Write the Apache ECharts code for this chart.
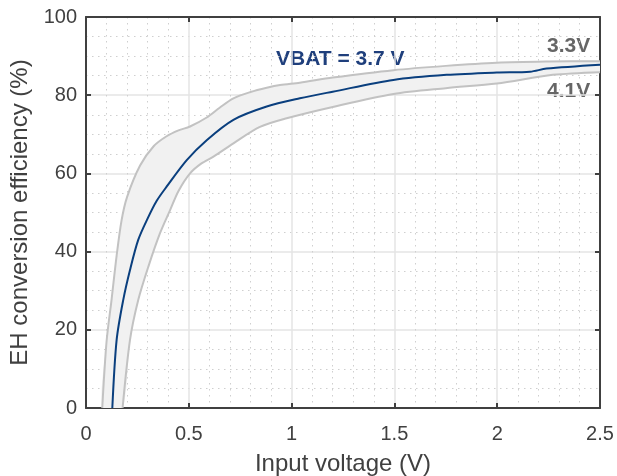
<!DOCTYPE html>
<html>
<head>
<meta charset="utf-8">
<script src="https://cdn.jsdelivr.net/npm/echarts@6/dist/echarts.min.js"></script>
<style>
  html, body { margin: 0; padding: 0; background: #fff; }
  #chart { width: 617px; height: 476px; }
</style>
</head>
<body>
<div id="chart"></div>
<script>
// input voltage (V) / efficiency (%) per battery voltage
var volt33 = [0.079, 0.1, 0.125, 0.149, 0.173, 0.2, 0.263, 0.33, 0.392, 0.45, 0.506, 0.587, 0.65, 0.717, 0.8, 0.879, 0.944, 1.04, 1.2, 1.495, 1.75, 1.998, 2.25, 2.5];
var eff33 = [0, 17, 28, 39, 48, 54, 62, 67, 69.5, 71, 72, 74.3, 76.8, 79.2, 80.8, 81.9, 82.6, 83.2, 84.5, 86.4, 87.5, 88.3, 88.6, 88.7];

var volt37 = [0.128, 0.149, 0.181, 0.214, 0.254, 0.3, 0.344, 0.392, 0.49, 0.587, 0.717, 0.879, 1.04, 1.2, 1.495, 1.754, 1.998, 2.16, 2.24, 2.5];
var eff37 = [0, 17.4, 27.6, 35.3, 43, 48.5, 53, 56.6, 63.4, 68.5, 73.7, 77.1, 79.2, 80.9, 83.9, 85.2, 85.8, 86, 86.8, 87.8];

var volt41 = [0.178, 0.214, 0.254, 0.303, 0.36, 0.409, 0.45, 0.506, 0.56, 0.62, 0.717, 0.846, 0.976, 1.2, 1.495, 1.75, 1.998, 2.27, 2.5];
var eff41 = [0, 17.4, 27.6, 36.1, 44.7, 50.6, 55.5, 60, 62.5, 64.3, 67.7, 71.9, 74.1, 77, 80.3, 81.8, 83, 85.2, 85.9];

var xTicks = [0, 0.5, 1, 1.5, 2, 2.5];
var yTicks = [0, 20, 40, 60, 80, 100];

function pairs(xs, ys) {
  return xs.map(function (x, i) { return [x, ys[i]]; });
}

var upper = pairs(volt33, eff33);
var middle = pairs(volt37, eff37);
var lower = pairs(volt41, eff41);

var chart = echarts.init(document.getElementById('chart'));

var axisCol = '#404040';
var font = '"Liberation Sans", Arial, sans-serif';

function xAxisCfg(show) {
  return {
    type: 'value',
    min: xTicks[0],
    max: xTicks[xTicks.length - 1],
    interval: xTicks[1] - xTicks[0],
    position: show ? 'bottom' : 'top',
    name: show ? 'Input voltage (V)' : '',
    nameLocation: 'middle',
    nameGap: 44,
    nameTextStyle: { color: axisCol, fontSize: 24, fontFamily: font },
    axisLine: { show: true, onZero: false, lineStyle: { color: axisCol, width: 2 } },
    axisTick: { show: true, inside: true, length: 5, lineStyle: { color: axisCol, width: 2 } },
    axisLabel: {
      show: show, color: axisCol, fontSize: 20, fontFamily: font, margin: 16,
      formatter: function (v) { return String(+v.toFixed(1)); }
    },
    splitLine: { show: show, lineStyle: { color: '#e4e4e4', width: 1.5 } },
    minorTick: { show: show, splitNumber: 5, length: 0 },
    minorSplitLine: { show: show, lineStyle: { color: '#cfcfcf', width: 1, type: [1.5, 4.5] } }
  };
}

function yAxisCfg(show) {
  return {
    type: 'value',
    min: yTicks[0],
    max: yTicks[yTicks.length - 1],
    interval: yTicks[1] - yTicks[0],
    position: show ? 'left' : 'right',
    name: show ? 'EH conversion efficiency (%)' : '',
    nameLocation: 'middle',
    nameGap: 52,
    nameTextStyle: { color: axisCol, fontSize: 24, fontFamily: font },
    axisLine: { show: true, onZero: false, lineStyle: { color: axisCol, width: 2 } },
    axisTick: { show: true, inside: true, length: 5, lineStyle: { color: axisCol, width: 2 } },
    axisLabel: { show: show, color: axisCol, fontSize: 20, fontFamily: font, margin: 9 },
    splitLine: { show: show, lineStyle: { color: '#e4e4e4', width: 1.5 } },
    minorTick: { show: show, splitNumber: 4, length: 0 },
    minorSplitLine: { show: show, lineStyle: { color: '#cfcfcf', width: 1, type: [1.5, 4.5] } }
  };
}

var option = {
  animation: false,
  backgroundColor: '#fff',
  grid: { left: 86, right: 17, top: 17, bottom: 68, outerBoundsMode: 'none', containLabel: false },
  xAxis: [xAxisCfg(true), xAxisCfg(false)],
  yAxis: [yAxisCfg(true), yAxisCfg(false)],
  series: [
    {
      // shaded band between 3.3 V and 4.1 V curves
      type: 'custom',
      silent: true,
      clip: true,
      z: 1,
      data: [[0, 0]],
      renderItem: function (params, api) {
        var pts = upper.map(function (p) { return api.coord(p); });
        var low = lower.slice().reverse().map(function (p) { return api.coord(p); });
        return {
          type: 'polygon',
          shape: { points: pts.concat(low), smooth: 0.25 },
          style: { fill: '#f1f1f1', stroke: null }
        };
      }
    },
    {
      name: '3.3V', type: 'line', data: upper, smooth: 0.3, showSymbol: false, z: 2,
      lineStyle: { color: '#c2c2c2', width: 2 }
    },
    {
      name: '4.1V', type: 'line', data: lower, smooth: 0.3, showSymbol: false, z: 2,
      lineStyle: { color: '#c2c2c2', width: 2 }
    },
    {
      name: '3.7V', type: 'line', data: middle, smooth: 0.3, showSymbol: false, z: 3,
      lineStyle: { color: '#0a3f7e', width: 2 }
    }
  ],
  graphic: [
    {
      type: 'text', left: 276, top: 49,
      style: { text: 'VBAT = 3.7 V', fill: '#1f3f7c', font: 'bold 21px ' + font }
    },
    {
      type: 'text', left: 547, top: 36,
      style: { text: '3.3V', fill: '#666666', font: 'bold 21px ' + font }
    },
    {
      type: 'text', left: 547, top: 81,
      style: { text: '4.1V', fill: '#666666', font: 'bold 21px ' + font }
    }
  ]
};

chart.setOption(option);
</script>
</body>
</html>
